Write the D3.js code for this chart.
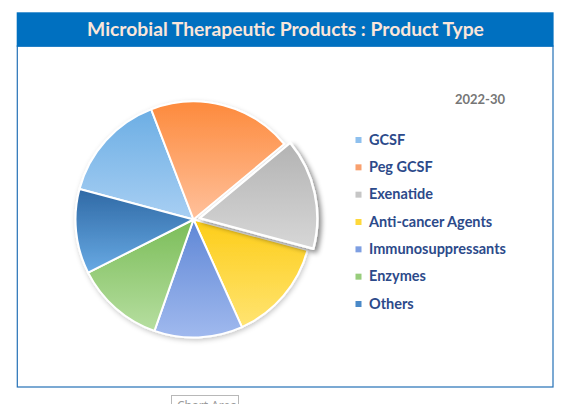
<!DOCTYPE html>
<html>
<head>
<meta charset="utf-8">
<script src="https://cdn.jsdelivr.net/npm/d3@7/dist/d3.min.js"></script>
<style>
  html, body { margin: 0; padding: 0; background: #ffffff; }
  svg { display: block; }
</style>
</head>
<body>
<svg id="chart" width="568" height="404"></svg>
<script>
// ---- data ----
const categories = ["GCSF", "Peg GCSF", "Exenatide", "Anti-cancer Agents", "Immunosuppressants", "Enzymes", "Others"];
const shares = [15.0, 19.8, 15.2, 14.1, 12.1, 12.2, 11.6];
const periodLabel = "2022-30";
const titleText = "Microbial Therapeutic Products : Product Type";
const explodedCategory = "Exenatide";

// ---- styles ----
const topColors    = ["#6caee4", "#fd8a3c", "#b3b3b3", "#fdcd18", "#5f87d6", "#7bbd58", "#2f69a5"];
const bottomColors = ["#a8cff3", "#ffc19c", "#d7d7d7", "#ffe472", "#a0b9ee", "#b6dea0", "#68aae4"];
const swatchColors = ["#8ec0ee", "#f9a06e", "#c6c6c6", "#fed83a", "#7e9fe2", "#98cd7c", "#4a89c8"];

const svg = d3.select("#chart");
const W = 568, H = 404;
const defs = svg.append("defs");

// shadows
const fPie = defs.append("filter").attr("id", "pieShadow").attr("x", "-20%").attr("y", "-20%").attr("width", "140%").attr("height", "140%");
fPie.append("feDropShadow").attr("dx", 1).attr("dy", 2).attr("stdDeviation", 2.5).attr("flood-color", "#000").attr("flood-opacity", 0.22);
const fEx = defs.append("filter").attr("id", "exShadow").attr("x", "-30%").attr("y", "-30%").attr("width", "160%").attr("height", "160%");
fEx.append("feDropShadow").attr("dx", 3).attr("dy", 3).attr("stdDeviation", 2.5).attr("flood-color", "#000").attr("flood-opacity", 0.45);

categories.forEach((c, i) => {
  const g = defs.append("linearGradient").attr("id", "grad" + i)
    .attr("x1", 0).attr("y1", 0).attr("x2", 0).attr("y2", 1);
  g.append("stop").attr("offset", "0%").attr("stop-color", topColors[i]);
  g.append("stop").attr("offset", "100%").attr("stop-color", bottomColors[i]);
});

// ---- frame ----
svg.append("rect").attr("x", 17.3).attr("y", 46).attr("width", 553 - 17.3).attr("height", 387 - 46)
  .attr("fill", "#ffffff").attr("stroke", "#2470b6").attr("stroke-width", 1.2);

svg.append("rect").attr("x", 16.7).attr("y", 12.3).attr("width", 553.6 - 16.7).attr("height", 46.7 - 12.3)
  .attr("fill", "#0070c0");

const title = svg.append("text").attr("x", (87 + 484) / 2).attr("y", 36)
  .attr("text-anchor", "middle")
  .attr("font-family", "Lato, 'Open Sans', sans-serif").attr("font-weight", 700)
  .attr("font-size", 19).attr("fill", "#fbe6da").text(titleText);
(function fit() {
  const w = title.node().getComputedTextLength();
  title.attr("font-size", 19 * 397 / w);
})();

// ---- pie ----
const cx = 193.5, cy = 219.5, R = 118;
const pie = d3.pie().sort(null)
  .startAngle(-75 * Math.PI / 180)
  .endAngle(285 * Math.PI / 180);
const arcs = pie(shares);
const arc = d3.arc().innerRadius(0).outerRadius(R);

const pieG = svg.append("g").attr("transform", `translate(${cx},${cy})`);
const normalG = pieG.append("g").attr("filter", "url(#pieShadow)");
arcs.forEach((a, i) => {
  if (categories[i] === explodedCategory) return;
  normalG.append("path").attr("d", arc(a))
    .attr("fill", `url(#grad${i})`)
    .attr("stroke", "#ffffff").attr("stroke-width", 2).attr("stroke-linejoin", "round");
});
arcs.forEach((a, i) => {
  if (categories[i] !== explodedCategory) return;
  const mid = (a.startAngle + a.endAngle) / 2;
  const off = 6;
  pieG.append("path").attr("d", arc(a))
    .attr("transform", `translate(${off * Math.sin(mid)},${-off * Math.cos(mid)})`)
    .attr("fill", `url(#grad${i})`)
    .attr("filter", "url(#exShadow)")
    .attr("stroke", "#ffffff").attr("stroke-width", 2.4).attr("stroke-linejoin", "round");
});

// ---- legend ----
svg.append("text").attr("x", 480).attr("y", 103.5).attr("text-anchor", "middle")
  .attr("font-family", "Lato, 'Open Sans', sans-serif").attr("font-weight", 700)
  .attr("font-size", 13).attr("fill", "#767676").text(periodLabel);

const legY = d3.scalePoint().domain(categories).range([140, 304]);
const leg = svg.append("g");
const items = leg.selectAll("g").data(categories).join("g")
  .attr("transform", d => `translate(0,${legY(d)})`);
items.append("rect").attr("x", 355.5).attr("y", -3).attr("width", 6).attr("height", 6)
  .attr("fill", (d, i) => swatchColors[i]);
const labels = items.append("text").attr("x", 369).attr("y", 4.6)
  .attr("font-family", "Lato, 'Open Sans', sans-serif").attr("font-weight", 700)
  .attr("font-size", 13).attr("fill", "#2c4a8a").text(d => d);
(function fitLegend() {
  const node = labels.filter(d => d === "Immunosuppressants").node();
  const w = node.getComputedTextLength();
  labels.attr("font-size", 13 * 137 / w);
})();

// ---- "Chart Area" tooltip (cut off at bottom) ----
svg.append("rect").attr("x", 171.5).attr("y", 395.5).attr("width", 67).attr("height", 18)
  .attr("fill", "#ffffff").attr("stroke", "#b8b8b8").attr("stroke-width", 1);
svg.append("text").attr("x", 177).attr("y", 410).attr("font-family", "'Noto Sans', sans-serif")
  .attr("font-size", 12).attr("fill", "#9a9a9a").text("Chart Area");
</script>
</body>
</html>
